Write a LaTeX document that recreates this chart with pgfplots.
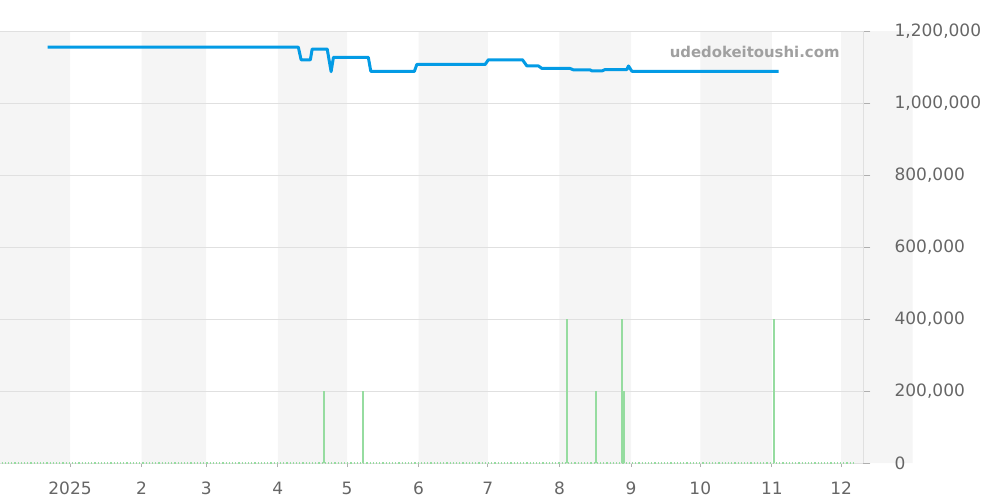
\documentclass[border=0pt]{standalone}
\usepackage{fontspec}
\setmainfont{DejaVu Sans}
\usepackage{pgfplots}
\pgfplotsset{compat=1.18}
\definecolor{band}{RGB}{245,245,245}
\definecolor{gridc}{RGB}{224,224,224}
\definecolor{ticklab}{RGB}{102,102,102}
\definecolor{tickc}{RGB}{175,175,175}
\definecolor{blueline}{RGB}{3,155,229}
\definecolor{greenbar}{RGB}{150,220,160}
\definecolor{wm}{RGB}{160,160,160}
\begin{document}
\begin{tikzpicture}
\begin{axis}[
  set layers,
  at={(0,0)}, anchor=south west,
  scale only axis, width=431.5pt, height=216pt,
  xmin=-30.33, xmax=343.5, ymin=0, ymax=1200000,
  axis x line*=bottom, axis y line*=right,
  axis line style={draw=gridc, line width=0.5pt},
  xtick={0,31,59,90,120,151,181,212,243,273,304,334},
  xticklabels={2025,2,3,4,5,6,7,8,9,10,11,12},
  ytick={0,200000,400000,600000,800000,1000000,1200000},
  scaled y ticks=false,
  yticklabel style={/pgf/number format/fixed, /pgf/number format/1000 sep={,}},
  /pgf/number format/assume math mode=true,
  ymajorgrids, grid style={draw=gridc, line width=0.5pt},
  tick align=outside,
  tick style={draw=tickc, line width=0.5pt},
  xtick style={/pgfplots/major tick length=2pt},
  ytick style={/pgfplots/major tick length=3.7pt},
  ticklabel style={font=\fontsize{8.5}{10}\selectfont, text=ticklab},
  yticklabel style={anchor=west, xshift=8pt},
  xticklabel style={yshift=-1.8pt},
]
% background month bands
\addplot[on layer=axis background, draw=none, fill=band] coordinates {(-31,0) (-31,1200000) (0,1200000) (0,0)} \closedcycle;
\addplot[on layer=axis background, draw=none, fill=band] coordinates {(31,0) (31,1200000) (59,1200000) (59,0)} \closedcycle;
\addplot[on layer=axis background, draw=none, fill=band] coordinates {(90,0) (90,1200000) (120,1200000) (120,0)} \closedcycle;
\addplot[on layer=axis background, draw=none, fill=band] coordinates {(151,0) (151,1200000) (181,1200000) (181,0)} \closedcycle;
\addplot[on layer=axis background, draw=none, fill=band] coordinates {(212,0) (212,1200000) (243,1200000) (243,0)} \closedcycle;
\addplot[on layer=axis background, draw=none, fill=band] coordinates {(273,0) (273,1200000) (304,1200000) (304,0)} \closedcycle;
\addplot[on layer=axis background, draw=none, fill=band] coordinates {(334,0) (334,1200000) (365,1200000) (365,0)} \closedcycle;
% green volume series
\addplot[greenbar, densely dotted, line width=0.6pt] coordinates {(-31,0) (340,0)};
\addplot[greenbar, ycomb, line width=1pt] coordinates {
 (110.2,200000) (127.1,200000) (215.2,400000) (228.0,200000)
 (239.0,400000) (239.9,200000) (305.0,400000)};
% blue price line
\addplot[blueline, line width=1.5pt, line join=round] coordinates {
 (-9.7,1155000) (98.9,1155000) (100.1,1120000) (104.1,1120000)
 (104.9,1150000) (111.4,1150000) (113.1,1087000) (114.1,1127000)
 (129.2,1127000) (130.3,1088000) (149.2,1088000) (150.2,1107000)
 (179.8,1107000) (181.2,1120000) (196.0,1120000) (197.9,1103000)
 (202.9,1103000) (204.4,1096000) (216.6,1096000) (218.1,1092000)
 (225.3,1092000) (226.2,1089000) (230.4,1089000) (231.8,1093000)
 (241.2,1093000) (241.9,1103000) (243.4,1088000) (306.9,1088000)};
\node[anchor=east, inner sep=0pt, font=\bfseries\fontsize{7.45}{9}\selectfont, text=wm]
  at (rel axis cs:0.9733,0.9507) {udedokeitoushi.com};
\end{axis}
\pgfresetboundingbox
\useasboundingbox (0,-18.5pt) rectangle (500pt,231.5pt);
\end{tikzpicture}
\end{document}
